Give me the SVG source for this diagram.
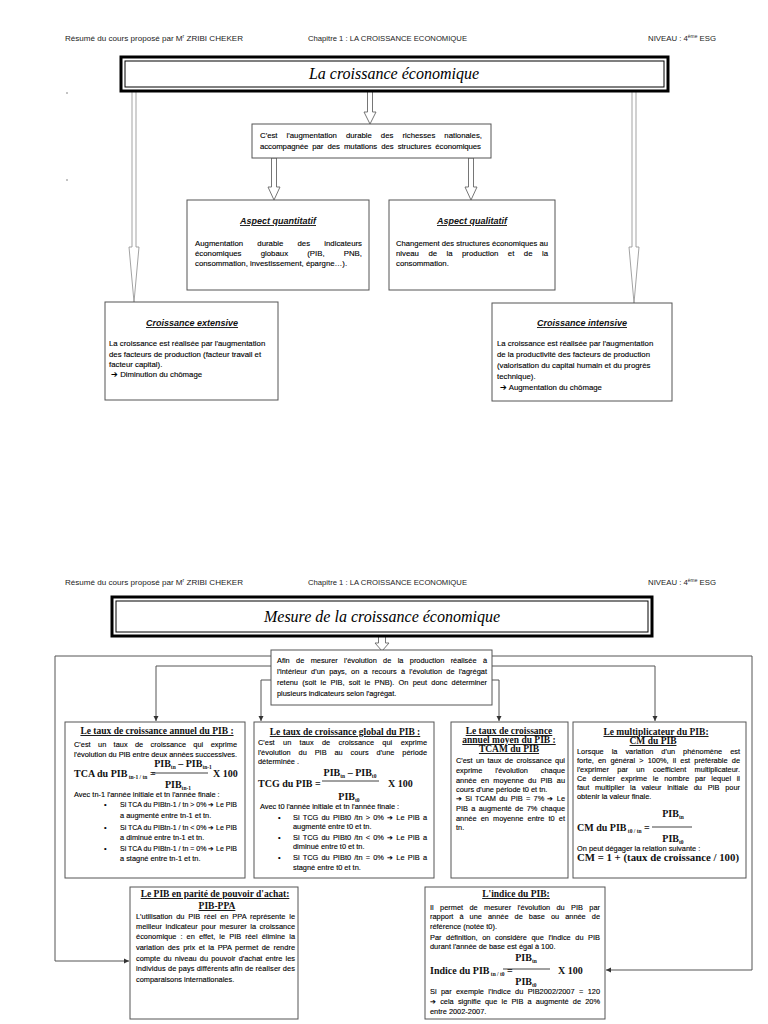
<svg xmlns="http://www.w3.org/2000/svg" width="768" height="1024" viewBox="0 0 768 1024">
<defs>
<style>
.hd{font-family:'Liberation Sans Narrow','Arial Narrow','Liberation Sans',sans-serif;font-size:8px;fill:#222}
.frame{fill:#fff;stroke:#000;stroke-width:3}
.fin{fill:none;stroke:#000;stroke-width:1}
.ttl{font-family:'Liberation Serif','Times New Roman',serif;font-style:italic;font-size:16px;fill:#000;text-anchor:middle}
.bx{fill:#fff;stroke:#555;stroke-width:1}
.st{font-family:'Liberation Sans',Arial,sans-serif;font-weight:bold;font-style:italic;text-decoration:underline;font-size:9px;text-anchor:middle;fill:#111}
.b{font-family:'Liberation Sans',Arial,sans-serif;font-size:7.8px;fill:#000;stroke:#000;stroke-width:0.12}
.c{font-family:'Liberation Sans',Arial,sans-serif;font-size:7.4px;fill:#000;stroke:#000;stroke-width:0.12}
.tr{font-family:'Liberation Serif','Times New Roman',serif;font-weight:bold;text-decoration:underline;font-size:9.5px;text-anchor:middle;fill:#111}
.fm{font-family:'Liberation Serif','Times New Roman',serif;font-weight:bold;font-size:10px;fill:#111}
.mid{text-anchor:middle}
.sb{font-size:5.5px}
.ha{fill:#fff;stroke:#666;stroke-width:0.9}
.hl{fill:#fff;stroke:#999;stroke-width:0.9}
.cn{fill:none;stroke:#555;stroke-width:1;marker-end:url(#ah)}
.bar{stroke:#111;stroke-width:0.8}
.dot{stroke:#888;stroke-width:1}
</style>
<marker id="ah" markerWidth="6" markerHeight="6" refX="5" refY="3" orient="auto" markerUnits="userSpaceOnUse"><path d="M0,0.5 L5,3 L0,5.5 Z" fill="#333"/></marker>
</defs>
<rect width="768" height="1024" fill="#fff"/>

<g id="header1">
<text class="hd" x="65" y="41" textLength="178" lengthAdjust="spacingAndGlyphs">Résumé du cours proposé par M<tspan dy="-3" font-size="5">r</tspan><tspan dy="3"> ZRIBI CHEKER</tspan></text>
<text class="hd" x="308" y="41" textLength="159" lengthAdjust="spacingAndGlyphs">Chapitre 1 : LA CROISSANCE ECONOMIQUE</text>
<text class="hd" x="648" y="41" textLength="68" lengthAdjust="spacingAndGlyphs">NIVEAU : 4<tspan dy="-3" font-size="5">ème</tspan><tspan dy="3"> ESG</tspan></text>
</g>
<line class="dot" x1="66" y1="93" x2="68" y2="93"/>
<line class="dot" x1="66" y1="180" x2="68" y2="180"/>

<g id="connectors-top">
<polygon class="ha" points="367.5,91 372.5,91 372.5,112 376,112 370,124 364,112 367.5,112"/>
<polygon class="ha" points="271.5,158 276.5,158 276.5,187 280,187 274,200 268,187 271.5,187"/>
<polygon class="ha" points="468.5,158 473.5,158 473.5,187 477,187 471,200 465,187 468.5,187"/>
<polygon class="hl" points="132,91 136,91 136,247 139,247 134,302 129,247 132,247"/>
<polygon class="hl" points="632,91 636,91 636,247 639,247 634,303 629,247 632,247"/>
</g>

<g id="title1">
<rect class="frame" x="121" y="57" width="547" height="34"/>
<rect class="fin" x="125" y="61" width="539" height="26"/>
<text class="ttl" x="394" y="79">La croissance économique</text>
</g>

<g id="definition">
<rect class="bx" x="252" y="124" width="239" height="34"/>
<text class="b" x="260" y="138" style="word-spacing:6.8px" textLength="222" lengthAdjust="spacing">C'est l'augmentation durable des richesses nationales,</text>
<text class="b" x="260" y="149" style="word-spacing:2px" textLength="221" lengthAdjust="spacing">accompagnée par des mutations des structures économiques</text>
</g>

<g id="aspect-quantitatif">
<rect class="bx" x="187" y="200" width="182" height="90"/>
<text class="st" x="278" y="224">Aspect quantitatif</text>
<text class="b" x="195" y="246" style="word-spacing:12px" textLength="167" lengthAdjust="spacing">Augmentation durable des indicateurs</text>
<text class="b" x="195" y="256" style="word-spacing:17px" textLength="167" lengthAdjust="spacing">économiques globaux (PIB, PNB,</text>
<text class="b" x="195" y="266">consommation, investissement, épargne…).</text>
</g>

<g id="aspect-qualitatif">
<rect class="bx" x="389" y="200" width="166" height="90"/>
<text class="st" x="472" y="224">Aspect qualitatif</text>
<text class="b" x="396" y="246" textLength="152" lengthAdjust="spacingAndGlyphs">Changement des structures économiques au</text>
<text class="b" x="396" y="256" style="word-spacing:7.3px" textLength="152" lengthAdjust="spacing">niveau de la production et de la</text>
<text class="b" x="396" y="266">consommation.</text>
</g>

<g id="croissance-extensive">
<rect class="bx" x="105" y="302" width="173" height="98"/>
<text class="st" x="192" y="326">Croissance extensive</text>
<text class="b" x="109" y="346">La croissance est réalisée par l'augmentation</text>
<text class="b" x="109" y="357">des facteurs de production (facteur travail et</text>
<text class="b" x="109" y="367">facteur capital).</text>
<text class="b" x="111" y="377">➔ Diminution du chômage</text>
</g>

<g id="croissance-intensive">
<rect class="bx" x="492" y="303" width="180" height="98"/>
<text class="st" x="582" y="326">Croissance intensive</text>
<text class="b" x="497" y="346">La croissance est réalisée par l'augmentation</text>
<text class="b" x="497" y="357">de la productivité des facteurs de production</text>
<text class="b" x="497" y="368">(valorisation du capital humain et du progrès</text>
<text class="b" x="497" y="379">technique).</text>
<text class="b" x="500" y="390">➔ Augmentation du chômage</text>
</g>

<g id="header2">
<text class="hd" x="65" y="585" textLength="178" lengthAdjust="spacingAndGlyphs">Résumé du cours proposé par M<tspan dy="-3" font-size="5">r</tspan><tspan dy="3"> ZRIBI CHEKER</tspan></text>
<text class="hd" x="308" y="585" textLength="159" lengthAdjust="spacingAndGlyphs">Chapitre 1 : LA CROISSANCE ECONOMIQUE</text>
<text class="hd" x="648" y="585" textLength="68" lengthAdjust="spacingAndGlyphs">NIVEAU : 4<tspan dy="-3" font-size="5">ème</tspan><tspan dy="3"> ESG</tspan></text>
</g>

<g id="connectors-bottom">
<polygon class="ha" points="378.5,636 385.5,636 385.5,643 389,643 382,651 375,643 378.5,643"/>
<path class="cn" d="M400,656 H55 V961 H129"/>
<path class="cn" d="M400,656 H752 V970 H606"/>
<path class="cn" d="M400,666 H156 V721"/>
<path class="cn" d="M400,666 H655 V721"/>
<path class="cn" d="M380,680 H261 V721"/>
<path class="cn" d="M380,680 H499 V721"/>
</g>

<g id="title2">
<rect class="frame" x="112" y="597" width="540" height="39"/>
<rect class="fin" x="116" y="601" width="532" height="31"/>
<text class="ttl" x="382" y="622">Mesure de la croissance économique</text>
</g>

<g id="intro">
<rect class="bx" x="271" y="650" width="221" height="55"/>
<text class="c" x="277" y="663" style="word-spacing:4.3px" textLength="210" lengthAdjust="spacing">Afin de mesurer l'évolution de la production réalisée à</text>
<text class="c" x="277" y="674" style="word-spacing:2.2px" textLength="210" lengthAdjust="spacing">l'intérieur d'un pays, on a recours à l'évolution de l'agrégat</text>
<text class="c" x="277" y="685" style="word-spacing:2.2px" textLength="210" lengthAdjust="spacing">retenu (soit le PIB, soit le PNB). On peut donc déterminer</text>
<text class="c" x="277" y="696">plusieurs indicateurs selon l'agrégat.</text>
</g>

<g id="tca">
<rect class="bx" x="65" y="722" width="180" height="156"/>
<text class="tr" x="157" y="734">Le taux de croissance annuel du PIB :</text>
<text class="c" x="74" y="747" style="word-spacing:5.3px" textLength="163" lengthAdjust="spacing">C'est un taux de croissance qui exprime</text>
<text class="c" x="74" y="757" textLength="163" lengthAdjust="spacing">l'évolution du PIB entre deux années successives.</text>
<text class="fm mid" x="183" y="767">PIB<tspan class="sb" dy="2">tn</tspan><tspan dy="-2"> – PIB</tspan><tspan class="sb" dy="2">tn-1</tspan></text>
<text class="fm" x="74" y="777">TCA du PIB<tspan class="sb" dy="2"> tn-1 / tn</tspan><tspan dy="-2"> =</tspan></text>
<line class="bar" x1="152" y1="773" x2="208" y2="773"/>
<text class="fm" x="213" y="777">X 100</text>
<text class="fm mid" x="178" y="788">PIB<tspan class="sb" dy="2">tn-1</tspan></text>
<text class="c" x="74" y="797">Avec tn-1 l'année initiale et tn l'année finale :</text>
<text class="c" x="104" y="807">•</text>
<text class="c" x="120" y="807" textLength="117" lengthAdjust="spacingAndGlyphs">Si TCA du PIBtn-1 / tn &gt; 0% ➔ Le PIB</text>
<text class="c" x="120" y="818">a augmenté entre tn-1 et tn.</text>
<text class="c" x="104" y="830">•</text>
<text class="c" x="120" y="830" textLength="117" lengthAdjust="spacingAndGlyphs">Si TCA du PIBtn-1 / tn &lt; 0% ➔ Le PIB</text>
<text class="c" x="120" y="840">a diminué entre tn-1 et tn.</text>
<text class="c" x="104" y="851">•</text>
<text class="c" x="120" y="851" textLength="117" lengthAdjust="spacingAndGlyphs">Si TCA du PIBtn-1 / tn = 0% ➔ Le PIB</text>
<text class="c" x="120" y="861">a stagné entre tn-1 et tn.</text>
</g>

<g id="tcg">
<rect class="bx" x="254" y="722" width="180" height="156"/>
<text class="tr" x="345" y="735">Le taux de croissance global du PIB :</text>
<text class="c" x="258" y="745" style="word-spacing:6.3px" textLength="169" lengthAdjust="spacing">C'est un taux de croissance qui exprime</text>
<text class="c" x="258" y="755" style="word-spacing:5.8px" textLength="169" lengthAdjust="spacing">l'évolution du PIB au cours d'une période</text>
<text class="c" x="258" y="764">déterminée .</text>
<text class="fm mid" x="350" y="776">PIB<tspan class="sb" dy="2">tn</tspan><tspan dy="-2"> – PIB</tspan><tspan class="sb" dy="2">t0</tspan></text>
<text class="fm" x="258" y="787">TCG du PIB =</text>
<line class="bar" x1="322" y1="781" x2="379" y2="781"/>
<text class="fm" x="388" y="787">X 100</text>
<text class="fm mid" x="349" y="800">PIB<tspan class="sb" dy="2">t0</tspan></text>
<text class="c" x="260" y="809">Avec t0 l'année initiale et tn l'année finale :</text>
<text class="c" x="278" y="820">•</text>
<text class="c" x="293" y="820" style="word-spacing:1.1px" textLength="134" lengthAdjust="spacing">Si TCG du PIBt0 /tn &gt; 0% ➔ Le PIB a</text>
<text class="c" x="293" y="829">augmenté entre t0 et tn.</text>
<text class="c" x="278" y="840">•</text>
<text class="c" x="293" y="840" style="word-spacing:1.1px" textLength="134" lengthAdjust="spacing">Si TCG du PIBt0 /tn &lt; 0% ➔ Le PIB a</text>
<text class="c" x="293" y="849">diminué entre t0 et tn.</text>
<text class="c" x="278" y="860">•</text>
<text class="c" x="293" y="860" style="word-spacing:1.1px" textLength="134" lengthAdjust="spacing">Si TCG du PIBt0 /tn = 0% ➔ Le PIB a</text>
<text class="c" x="293" y="870">stagné entre t0 et tn.</text>
</g>

<g id="tcam">
<rect class="bx" x="451" y="722" width="117" height="156"/>
<text class="tr" x="509" y="734">Le taux de croissance</text>
<text class="tr" x="509" y="743">annuel moyen du PIB :</text>
<text class="tr" x="509" y="752">TCAM du PIB</text>
<text class="c" x="456" y="763" style="word-spacing:1.3px" textLength="109" lengthAdjust="spacing">C'est un taux de croissance qui</text>
<text class="c" x="456" y="773" style="word-spacing:10.8px" textLength="109" lengthAdjust="spacing">exprime l'évolution chaque</text>
<text class="c" x="456" y="783" style="word-spacing:2.2px" textLength="109" lengthAdjust="spacing">année en moyenne du PIB au</text>
<text class="c" x="456" y="792">cours d'une période t0 et tn.</text>
<text class="c" x="456" y="801" style="word-spacing:1.2px" textLength="109" lengthAdjust="spacing">➔ Si TCAM du PIB = 7% ➔ Le</text>
<text class="c" x="456" y="811" style="word-spacing:1.3px" textLength="109" lengthAdjust="spacing">PIB a augmenté de 7% chaque</text>
<text class="c" x="456" y="821" style="word-spacing:2.1px" textLength="109" lengthAdjust="spacing">année en moyenne entre t0 et</text>
<text class="c" x="456" y="830">tn.</text>
</g>

<g id="cm">
<rect class="bx" x="573" y="722" width="173" height="156"/>
<text class="tr" x="656" y="735">Le multiplicateur du PIB:</text>
<text class="tr" x="653" y="744">CM du PIB</text>
<text class="c" x="577" y="754" style="word-spacing:5.9px" textLength="163" lengthAdjust="spacing">Lorsque la variation d'un phénomène est</text>
<text class="c" x="577" y="763" style="word-spacing:2.1px" textLength="163" lengthAdjust="spacing">forte, en général &gt; 100%, il est préférable de</text>
<text class="c" x="577" y="772" style="word-spacing:6.3px" textLength="163" lengthAdjust="spacing">l'exprimer par un coefficient multiplicateur.</text>
<text class="c" x="577" y="781" style="word-spacing:3.6px" textLength="163" lengthAdjust="spacing">Ce dernier exprime le nombre par lequel il</text>
<text class="c" x="577" y="790" style="word-spacing:3.7px" textLength="163" lengthAdjust="spacing">faut multiplier la valeur initiale du PIB pour</text>
<text class="c" x="577" y="799">obtenir la valeur finale.</text>
<text class="fm mid" x="673" y="817">PIB<tspan class="sb" dy="2">tn</tspan></text>
<text class="fm" x="577" y="831">CM du PIB<tspan class="sb" dy="2"> t0 / tn</tspan><tspan dy="-2"> =</tspan></text>
<line class="bar" x1="652" y1="827" x2="692" y2="827"/>
<text class="fm mid" x="673" y="842">PIB<tspan class="sb" dy="2">t0</tspan></text>
<text class="c" x="577" y="851">On peut dégager la relation suivante :</text>
<text class="fm" x="577" y="861" textLength="162" lengthAdjust="spacingAndGlyphs">CM = 1 + (taux de croissance / 100)</text>
</g>

<g id="pib-ppa">
<rect class="bx" x="130" y="887" width="168" height="132"/>
<text class="tr" x="215" y="897">Le PIB en parité de pouvoir d'achat:</text>
<text class="tr" x="217" y="909">PIB-PPA</text>
<text class="c" x="136" y="919" style="word-spacing:1.8px" textLength="159" lengthAdjust="spacing">L'utilisation du PIB réel en PPA représente le</text>
<text class="c" x="136" y="929" style="word-spacing:1.5px" textLength="159" lengthAdjust="spacing">meilleur indicateur pour mesurer la croissance</text>
<text class="c" x="136" y="939" style="word-spacing:2px" textLength="159" lengthAdjust="spacing">économique : en effet, le PIB réel élimine la</text>
<text class="c" x="136" y="950" style="word-spacing:1.4px" textLength="159" lengthAdjust="spacing">variation des prix et la PPA permet de rendre</text>
<text class="c" x="136" y="961" style="word-spacing:1.1px" textLength="159" lengthAdjust="spacing">compte du niveau du pouvoir d'achat entre les</text>
<text class="c" x="136" y="971" textLength="159" lengthAdjust="spacing">individus de pays différents afin de réaliser des</text>
<text class="c" x="136" y="982">comparaisons internationales.</text>
</g>

<g id="indice">
<rect class="bx" x="425" y="887" width="180" height="132"/>
<text class="tr" x="516" y="897">L'indice du PIB:</text>
<text class="c" x="430" y="910" style="word-spacing:4.3px" textLength="170" lengthAdjust="spacing">Il permet de mesurer l'évolution du PIB par</text>
<text class="c" x="430" y="919" style="word-spacing:4px" textLength="170" lengthAdjust="spacing">rapport à une année de base ou année de</text>
<text class="c" x="430" y="929">référence (notée t0).</text>
<text class="c" x="430" y="940" style="word-spacing:2.6px" textLength="170" lengthAdjust="spacing">Par définition, on considère que l'indice du PIB</text>
<text class="c" x="430" y="949">durant l'année de base est égal à 100.</text>
<text class="fm mid" x="526" y="961">PIB<tspan class="sb" dy="2">tn</tspan></text>
<text class="fm" x="430" y="974">Indice du PIB<tspan class="sb" dy="2"> tn / t0</tspan><tspan dy="-2"> =</tspan></text>
<line class="bar" x1="503" y1="969" x2="550" y2="969"/>
<text class="fm" x="558" y="974">X 100</text>
<text class="fm mid" x="526" y="985">PIB<tspan class="sb" dy="2">t0</tspan></text>
<text class="c" x="430" y="994" style="word-spacing:2.3px" textLength="170" lengthAdjust="spacing">Si par exemple l'indice du PIB2002/2007 = 120</text>
<text class="c" x="430" y="1004" style="word-spacing:2.2px" textLength="170" lengthAdjust="spacing">➔ cela signifie que le PIB a augmenté de 20%</text>
<text class="c" x="430" y="1014">entre 2002-2007.</text>
</g>
</svg>
